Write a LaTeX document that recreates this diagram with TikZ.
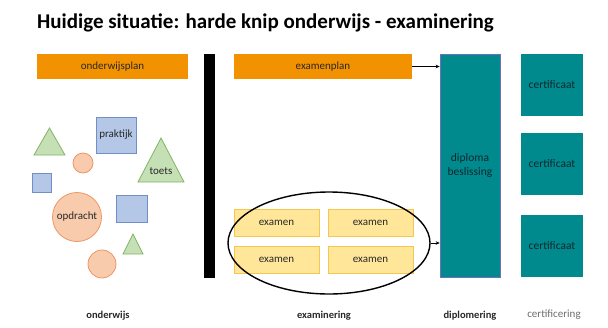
\documentclass[tikz,border=0pt]{standalone}
\usepackage{fontspec}
\setmainfont{Carlito}
\usetikzlibrary{shapes.geometric,arrows.meta,calc}
\definecolor{planorange}{RGB}{243,146,0}
\definecolor{tealbox}{RGB}{0,138,142}
\definecolor{tealedge}{RGB}{112,112,190}
\definecolor{greenfill}{RGB}{197,224,180}
\definecolor{greenedge}{RGB}{130,179,102}
\definecolor{bluefill}{RGB}{180,199,231}
\definecolor{blueedge}{RGB}{114,142,200}
\definecolor{salmonfill}{RGB}{248,203,173}
\definecolor{salmonedge}{RGB}{237,150,100}
\definecolor{yellowfill}{RGB}{255,230,153}
\definecolor{yellowedge}{RGB}{244,200,80}
\definecolor{darktext}{RGB}{40,40,40}
\definecolor{tealtext}{RGB}{15,40,45}
\tikzset{
  planbox/.style={fill=planorange, draw=none, minimum height=25pt, inner sep=0pt, text=darktext, font=\fontsize{11}{13}\selectfont},
  tealrect/.style={fill=tealbox, draw=tealedge, line width=0.6pt, inner sep=0pt, text=tealtext, font=\fontsize{11.5}{13.5}\selectfont, align=center},
  certbox/.style={fill=tealbox, draw=none, minimum width=62pt, minimum height=62pt, inner sep=0pt, text=tealtext, font=\fontsize{11.5}{13.5}\selectfont},
  exambox/.style={fill=yellowfill, draw=yellowedge, line width=0.6pt, minimum width=85pt, minimum height=27pt, inner sep=0pt, text=darktext, font=\fontsize{11}{13}\selectfont},
  greentri/.style={fill=greenfill, draw=greenedge, line width=0.8pt},
  bluesq/.style={fill=bluefill, draw=blueedge, line width=0.8pt, inner sep=0pt, text=darktext, font=\fontsize{11}{13}\selectfont},
  salmoncirc/.style={circle, fill=salmonfill, draw=salmonedge, line width=0.8pt, inner sep=0pt, text=darktext, font=\fontsize{11}{13}\selectfont},
  shapetext/.style={text=darktext, font=\fontsize{11}{13}\selectfont},
  bottomlabel/.style={font=\bfseries\fontsize{10.5}{12}\selectfont, text=darktext},
  arr/.style={-{Stealth[length=4pt,width=3.5pt]}, line width=0.9pt, black}
}
\begin{document}
\begin{tikzpicture}[x=1pt,y=-1pt]
\useasboundingbox (0,0) rectangle (608,327);
% title
\node[font=\bfseries\fontsize{21}{25}\selectfont, anchor=west, inner sep=0pt] (title) at (37,23) {Huidige situatie: harde knip onderwijs - examinering};
% onderwijs column
\node[planbox, minimum width=151pt] (oplan) at (112.5,66.5) {onderwijsplan};
\fill[black] (204,54) rectangle (215,278);
% shapes
\draw[greentri] (34,155) -- (65,155) -- (49.5,128) -- cycle;
\node[bluesq, minimum width=40pt, minimum height=36pt] (praktijk) at (116,135) {praktijk};
\draw[greentri] (138,182) -- (184,182) -- (161,138) -- cycle;
\node[shapetext] (toets) at (161,171) {toets};
\node[salmoncirc, minimum size=20pt] (c1) at (83,163) {};
\node[bluesq, minimum width=19pt, minimum height=19pt] (sq1) at (41.5,182.5) {};
\node[salmoncirc, minimum size=49pt] (opdracht) at (77,217) {opdracht};
\node[bluesq, minimum width=31pt, minimum height=27pt] (sq2) at (131.5,208.5) {};
\draw[greentri] (123,254) -- (143,254) -- (133,234) -- cycle;
\node[salmoncirc, minimum size=28pt] (c2) at (102,264) {};
% examinering column
\node[planbox, minimum width=178pt] (eplan) at (323,66.5) {examenplan};
\node[exambox] (e1) at (276.5,222.5) {examen};
\node[exambox] (e2) at (370.5,222.5) {examen};
\node[exambox] (e3) at (276.5,259.5) {examen};
\node[exambox] (e4) at (370.5,259.5) {examen};
\node[ellipse, draw=black, line width=1.4pt, minimum width=202pt, minimum height=102pt] (ell) at (329,243) {};
% diploma
\node[tealrect, minimum width=60pt, minimum height=223pt] (diploma) at (470,165.5) {diploma\\beslissing};
% certificates
\node[certbox] (cert1) at (552,85) {certificaat};
\node[certbox] (cert2) at (552,164) {certificaat};
\node[certbox] (cert3) at (552,246) {certificaat};
% arrows
\draw[arr] (eplan.east) -- (eplan.east -| diploma.west);
\draw[arr] (ell.east) -- (ell.east -| diploma.west);
% bottom labels
\node[bottomlabel] (l1) at (108,316) {onderwijs};
\node[bottomlabel] (l2) at (324,316) {examinering};
\node[bottomlabel] (l3) at (470,316) {diplomering};
\node[font=\fontsize{11}{13}\selectfont, text=gray!85!black] (l4) at (554,315) {certificering};
\end{tikzpicture}
\end{document}
